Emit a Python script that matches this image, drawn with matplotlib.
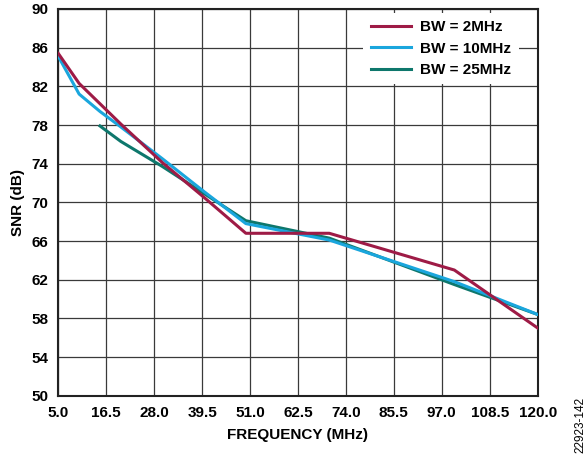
import matplotlib
matplotlib.use("Agg")
import matplotlib.pyplot as plt
import numpy as np

plt.rcParams['font.family'] = ['Liberation Sans', 'DejaVu Sans']
plt.rcParams['font.weight'] = 'bold'

# Data
freq_2 = [5, 10, 20, 30, 40, 50, 70, 100, 120]
snr_2 = [85.4, 82.3, 78.1, 74.1, 70.5, 66.8, 66.8, 63.0, 57.0]

freq_10 = [5, 10, 15, 20, 30, 40, 50, 70, 100, 120]
snr_10 = [85.1, 81.2, 79.4, 77.8, 74.5, 71.1, 67.8, 66.1, 61.8, 58.4]

freq_25 = [15, 20, 30, 40, 50, 70, 100, 120]
snr_25 = [77.9, 76.3, 73.7, 70.9, 68.1, 66.3, 61.5, 58.4]

labels = ['BW = 2MHz', 'BW = 10MHz', 'BW = 25MHz']
colors = ['#9E1B46', '#1AA6DD', '#0E776C']

xticks = [5.0, 16.5, 28.0, 39.5, 51.0, 62.5, 74.0, 85.5, 97.0, 108.5, 120.0]
xtick_labels = ['5.0', '16.5', '28.0', '39.5', '51.0', '62.5', '74.0', '85.5', '97.0', '108.5', '120.0']
yticks = [50, 54, 58, 62, 66, 70, 74, 78, 82, 86, 90]

FS = 11

fig = plt.figure(figsize=(5.87, 4.54), dpi=100)
ax = fig.add_axes([0.0993, 0.1284, 0.8167, 0.8518])

l3, = ax.plot(freq_25, snr_25, color=colors[2], lw=2.2, zorder=3, label=labels[2])
l2, = ax.plot(freq_10, snr_10, color=colors[1], lw=2.2, zorder=4, label=labels[1])
l1, = ax.plot(freq_2, snr_2, color=colors[0], lw=2.2, zorder=5, label=labels[0])

ax.set_xlim(5, 120)
ax.set_ylim(50, 90)
ax.set_xticks(xticks)
ax.set_xticklabels(xtick_labels)
ax.set_yticks(yticks)
ax.tick_params(axis='both', length=0, labelsize=FS)
ax.tick_params(axis='x', pad=7.5)
ax.tick_params(axis='y', pad=7)
for lab in ax.get_xticklabels() + ax.get_yticklabels():
    lab.set_fontweight('bold')

ax.grid(True, color='#3a3a3a', lw=0.9)
ax.set_axisbelow(True)
for s in ax.spines.values():
    s.set_color('#222222')
    s.set_linewidth(1.5)

ax.set_xlabel('FREQUENCY (MHz)', fontsize=FS, fontweight='bold', labelpad=6)
ax.set_ylabel('SNR (dB)', fontsize=FS, fontweight='bold', labelpad=5)

leg = ax.legend(handles=[l1, l2, l3], loc='upper left', bbox_to_anchor=(0.636, 0.99),
                fontsize=FS, frameon=True, facecolor='white', edgecolor='none',
                framealpha=1, fancybox=False, handlelength=2.6, handletextpad=0.65,
                labelspacing=0.47, borderpad=0.5, borderaxespad=0.0)
for t in leg.get_texts():
    t.set_fontweight('bold')
leg.set_zorder(6)

fig.text(0.989, 0.064, '22923-142', rotation=90, fontsize=8.5, fontweight='normal',
         ha='center', va='center')

fig.savefig('out.png', dpi=100)
